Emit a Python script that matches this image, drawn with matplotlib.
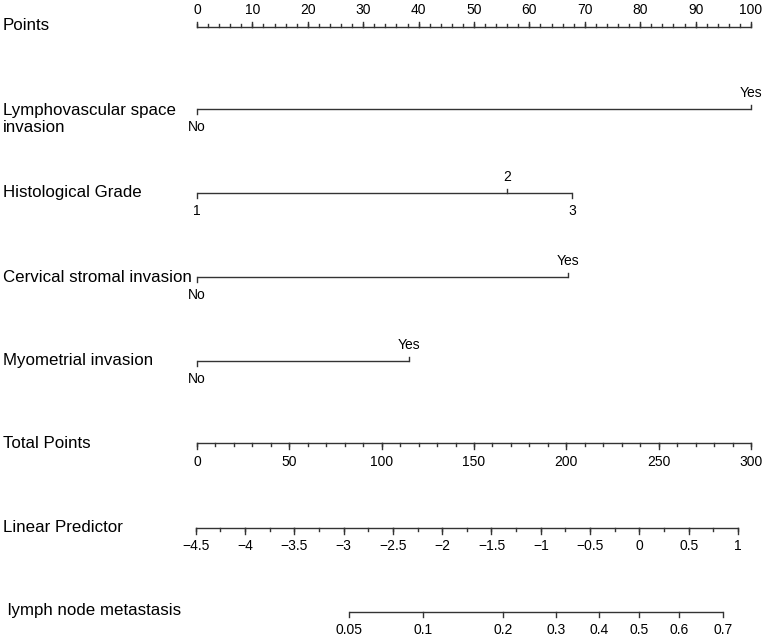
import numpy as np
import matplotlib
matplotlib.use("Agg")
import matplotlib.pyplot as plt

# ---------------- data ----------------
points_ticks = list(range(0, 101, 10))
points_minor = list(range(0, 101, 2))

lvsi_levels = ["No", "Yes"]
lvsi_points = [0, 100]
grade_levels = ["1", "2", "3"]
grade_points = [0, 56, 67.7]
csi_levels = ["No", "Yes"]
csi_points = [0, 67]
mi_levels = ["No", "Yes"]
mi_points = [0, 38.2]

total_ticks = list(range(0, 301, 50))
total_minor = list(range(0, 301, 10))

lp_ticks = [-4.5, -4, -3.5, -3, -2.5, -2, -1.5, -1, -0.5, 0, 0.5, 1]
lp_minor = list(np.arange(-4.5, 1.001, 0.25))
points_per_lp = 53.39      # total points per unit of linear predictor
lp_at_zero_points = -4.487

prob_ticks = [0.05, 0.1, 0.2, 0.3, 0.4, 0.5, 0.6, 0.7]
prob_labels = ["0.05", "0.1", "0.2", "0.3", "0.4", "0.5", "0.6", "0.7"]

row_labels = ["Points", "Lymphovascular space\ninvasion", "Histological Grade",
              "Cervical stromal invasion", "Myometrial invasion", "Total Points",
              "Linear Predictor", " lymph node metastasis"]

# ---------------- layout ----------------
W, H = 765, 638
X0, PX_PER_PT = 197.0, 5.54
FONT = "Liberation Sans"
LAB_FS = 12.2
TICK_FS = 10.0
LC = "#333333"
LW = 1.0

fig = plt.figure(figsize=(W / 100, H / 100), dpi=100)
ax = fig.add_axes([0, 0, 1, 1])
ax.set_xlim((0 - X0) / PX_PER_PT, (W - X0) / PX_PER_PT)
ax.set_ylim(H, 0)
ax.axis("off")

left_x = (3 - X0) / PX_PER_PT


def tp_to_pts(tp):
    return np.asarray(tp, dtype=float) / 3.0


def lp_to_pts(lp):
    tp = (np.asarray(lp, dtype=float) - lp_at_zero_points) * points_per_lp
    return tp_to_pts(tp)


def scale_row(y, major_x, minor_x, labels, up, label_off=18, major_len=5.5, minor_len=3.0):
    s = -1 if up else 1
    ax.plot([min(major_x + minor_x), max(major_x + minor_x)], [y, y], color=LC, lw=LW,
            solid_capstyle="butt")
    for x in minor_x:
        ax.plot([x, x], [y, y + s * minor_len], color=LC, lw=LW)
    for x, lab in zip(major_x, labels):
        ax.plot([x, x], [y, y + s * major_len], color=LC, lw=LW)
        ax.text(x, y + s * label_off, lab, ha="center", va="center",
                fontsize=TICK_FS, family=FONT, color="black")


def cat_row(y, xs, labels, sides):
    ax.plot([min(xs), max(xs)], [y, y], color=LC, lw=LW, solid_capstyle="butt")
    for x, lab, side in zip(xs, labels, sides):
        s = -1 if side == "up" else 1
        ax.plot([x, x], [y, y + s * 4.5], color=LC, lw=LW)
        off = -16 if side == "up" else 18
        ax.text(x, y + off, lab, ha="center", va="center", fontsize=TICK_FS,
                family=FONT, color="black")


rows_y = [27, 109, 193, 277, 361, 443, 528, 612]
label_y = [26, 119, 193, 277, 361, 444, 528, 610]

for lab, yy in zip(row_labels, label_y):
    ax.text(left_x, yy, lab, ha="left", va="center", fontsize=LAB_FS, family=FONT,
            color="black", linespacing=1.15)

# Points
scale_row(rows_y[0], points_ticks, points_minor, [str(v) for v in points_ticks], up=True,
          label_off=16.5)

# categorical predictors
cat_row(rows_y[1], lvsi_points, lvsi_levels, ["down", "up"])
cat_row(rows_y[2], grade_points, grade_levels, ["down", "up", "down"])
cat_row(rows_y[3], csi_points, csi_levels, ["down", "up"])
cat_row(rows_y[4], mi_points, mi_levels, ["down", "up"])

# Total points
scale_row(rows_y[5], list(tp_to_pts(total_ticks)), list(tp_to_pts(total_minor)),
          [str(v) for v in total_ticks], up=False, label_off=19)

# Linear predictor
lp_labels = [("%g" % v).replace("-", "\u2212") for v in lp_ticks]
scale_row(rows_y[6], list(lp_to_pts(lp_ticks)), list(lp_to_pts(lp_minor)),
          lp_labels, up=False)

# Probability
prob_lp = np.log(np.array(prob_ticks) / (1 - np.array(prob_ticks)))
scale_row(rows_y[7], list(lp_to_pts(prob_lp)), [], prob_labels, up=False, major_len=5)

fig.savefig("out.png", dpi=100, facecolor="white")
